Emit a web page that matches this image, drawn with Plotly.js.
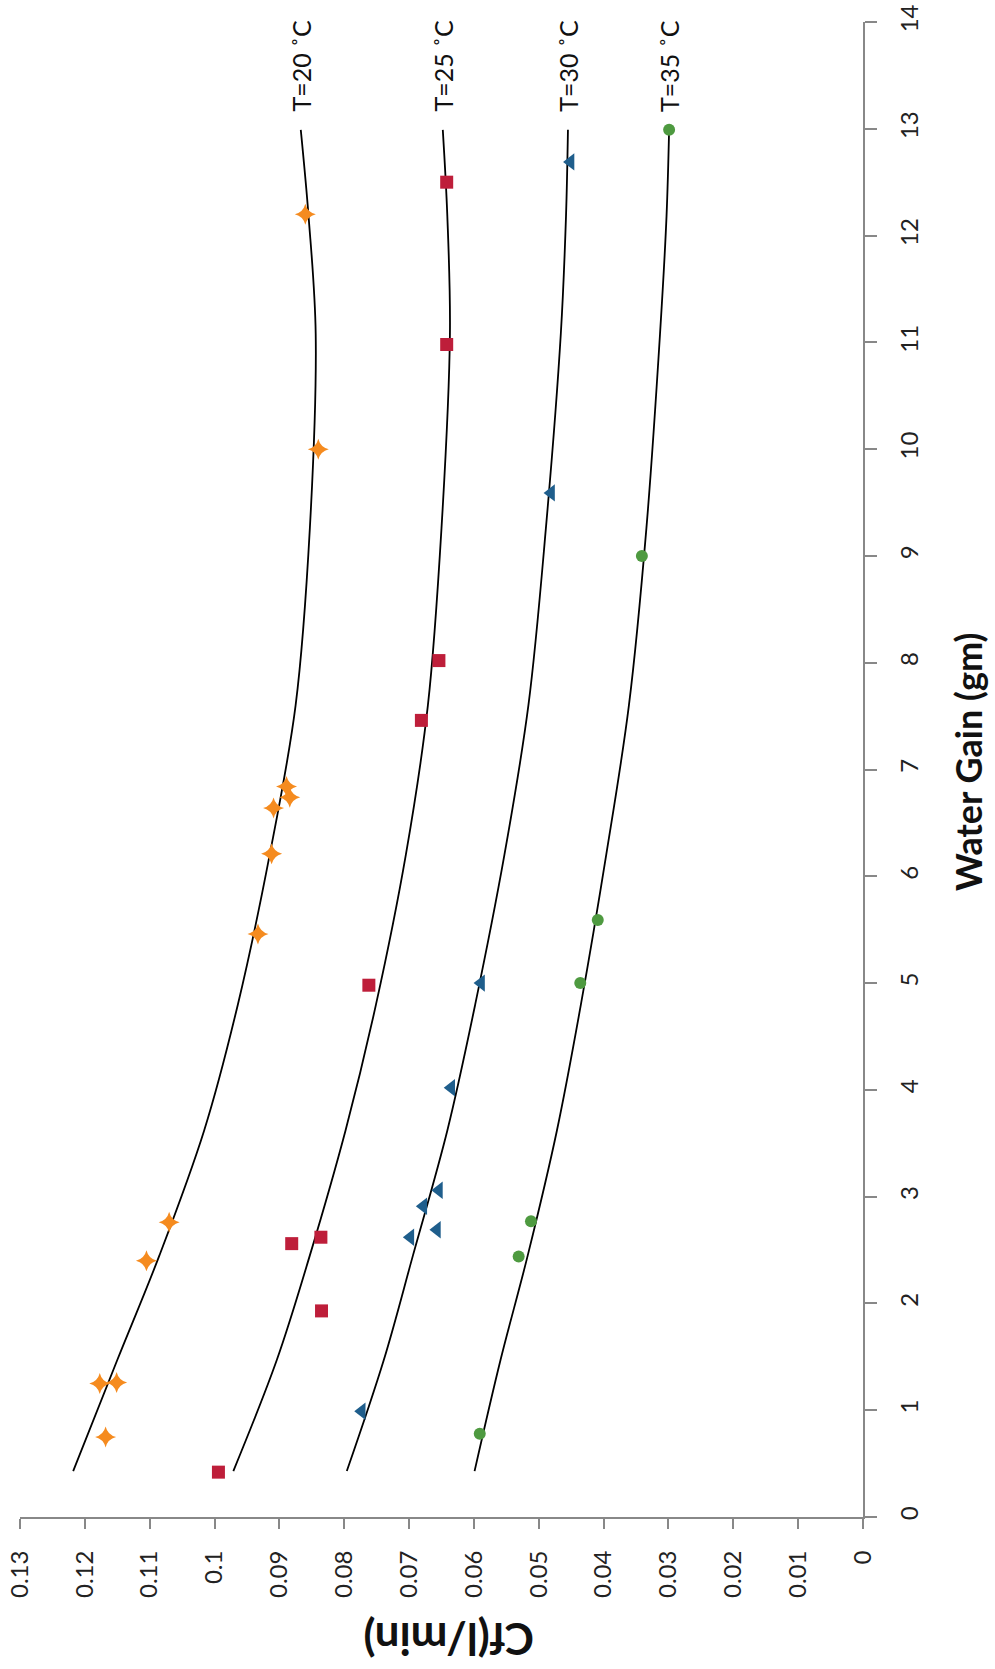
<!DOCTYPE html>
<html>
<head>
<meta charset="utf-8">
<script src="https://cdn.plot.ly/plotly-3.0.1.min.js"></script>
<style>
  html, body { margin: 0; padding: 0; background: #fff; }
  #chart { width: 995px; height: 1669px; }
</style>
</head>
<body>
<div id="chart"></div>
<script>
// ---- Measured points (Water Gain in gm, Cf in l/min) ----
const t20_wg = [0.75, 1.25, 1.26, 2.40, 2.76, 5.46, 6.21, 6.64, 6.74, 6.84, 10.00, 12.20];
const t20_cf = [0.1168, 0.1177, 0.1151, 0.1105, 0.1070, 0.0933, 0.0912, 0.0909, 0.0884, 0.0889, 0.0840, 0.0860];

const t25_wg = [0.42, 1.93, 2.56, 2.62, 4.98, 7.46, 8.02, 10.98, 12.50];
const t25_cf = [0.0994, 0.0835, 0.0881, 0.0836, 0.0762, 0.0681, 0.0654, 0.0642, 0.0642];

const t30_wg = [0.99, 2.62, 2.69, 2.91, 3.06, 4.02, 5.00, 9.59, 12.69];
const t30_cf = [0.0773, 0.0698, 0.0657, 0.0678, 0.0654, 0.0635, 0.0589, 0.0481, 0.0451];

const t35_wg = [0.78, 2.44, 2.77, 5.00, 5.59, 9.00, 12.99];
const t35_cf = [0.0591, 0.0531, 0.0512, 0.0436, 0.0409, 0.0341, 0.0299];

// ---- Trend curves ----
const fit_wg = [0.43, 1.47, 2.45, 3.62, 4.80, 6.20, 7.60, 9.26, 11.08, 12.18, 12.99];
const fit20_cf = [0.1218, 0.1150, 0.1085, 0.1016, 0.0964, 0.0915, 0.0875, 0.0853, 0.0844, 0.0855, 0.0867];
const fit25_cf = [0.0971, 0.0904, 0.0853, 0.0798, 0.0751, 0.0705, 0.0671, 0.0650, 0.0637, 0.0641, 0.0648];
const fit30_cf = [0.0796, 0.0739, 0.0694, 0.0641, 0.0598, 0.0553, 0.0516, 0.0489, 0.0466, 0.0458, 0.0455];
const fit35_cf = [0.0599, 0.0559, 0.0517, 0.0472, 0.0435, 0.0396, 0.0361, 0.0334, 0.0313, 0.0303, 0.0299];

const curveLabels = ["T=20 \u02DAC", "T=25 \u02DAC", "T=30 \u02DAC", "T=35 \u02DAC"];

// ---- Axis ticks ----
const cfTicks = [0, 0.01, 0.02, 0.03, 0.04, 0.05, 0.06, 0.07, 0.08, 0.09, 0.1, 0.11, 0.12, 0.13];
const cfTickText = ["0", "0.01", "0.02", "0.03", "0.04", "0.05", "0.06", "0.07", "0.08", "0.09", "0.1", "0.11", "0.12", "0.13"];
const wgTicks = [0, 1, 2, 3, 4, 5, 6, 7, 8, 9, 10, 11, 12, 13, 14];
const wgTickText = ["0", "1", "2", "3", "4", "5", "6", "7", "8", "9", "10", "11", "12", "13", "14"];

const xTitle = "Water Gain (gm)";
const yTitle = "Cf(l/min)";

const FONT = "Lato, 'Open Sans', sans-serif";

function curve(cf) {
  return {
    x: cf, y: fit_wg, type: "scatter", mode: "lines",
    line: { color: "#000", width: 1.8, shape: "spline", smoothing: 1 },
    hoverinfo: "skip", showlegend: false
  };
}
function pts(wg, cf, symbol, color, size) {
  return {
    x: cf, y: wg, type: "scatter", mode: "markers",
    marker: { symbol: symbol, color: color, size: size, line: { width: 0 } },
    showlegend: false
  };
}

const traces = [
  curve(fit20_cf), curve(fit25_cf), curve(fit30_cf), curve(fit35_cf),
  pts(t20_wg, t20_cf, "star-diamond", "#F58B1F", 15),
  pts(t25_wg, t25_cf, "square", "#BE1E3A", 13),
  pts(t30_wg, t30_cf, "triangle-left", "#1F5E8C", 15),
  pts(t35_wg, t35_cf, "circle", "#4E9A40", 12)
];

const fits = [fit20_cf, fit25_cf, fit30_cf, fit35_cf];
const lastWg = fit_wg[fit_wg.length - 1];
const annotations = fits.map((f, i) => ({
  xref: "x", yref: "y",
  x: f[f.length - 1], y: lastWg + 0.6,
  text: curveLabels[i], textangle: -90, showarrow: false,
  xanchor: "center", yanchor: "middle",
  font: { family: FONT, size: 25, color: "#111" }
}));
annotations.push({
  xref: "paper", yref: "paper", x: 1.1246, y: 0.505,
  text: "<b>" + xTitle + "</b>", textangle: -90, showarrow: false,
  xanchor: "center", yanchor: "middle",
  font: { family: FONT, size: 36, color: "#111" }
});
annotations.push({
  xref: "paper", yref: "paper", x: 0.5077, y: -0.0823,
  text: "<b>" + yTitle + "</b>", textangle: 180, showarrow: false,
  xanchor: "center", yanchor: "middle",
  font: { family: FONT, size: 44, color: "#111" }
});

const layout = {
  width: 995, height: 1669,
  margin: { l: 20, r: 132, t: 22, b: 152 },
  paper_bgcolor: "#fff", plot_bgcolor: "#fff",
  font: { family: FONT, color: "#222" },
  xaxis: {
    range: [0.13, 0], tickvals: cfTicks, ticktext: cfTickText,
    tickangle: -90, ticks: "outside", ticklen: 10, tickwidth: 2, tickcolor: "#888",
    showline: true, linecolor: "#888", linewidth: 2, showgrid: false, zeroline: false,
    tickfont: { family: FONT, size: 24, color: "#222" }, ticklabelstandoff: 12
  },
  yaxis: {
    range: [0, 14], tickvals: wgTicks, ticktext: wgTickText, side: "right",
    tickangle: -90, ticks: "outside", ticklen: 12, tickwidth: 2, tickcolor: "#888",
    showline: true, linecolor: "#888", linewidth: 2, showgrid: false, zeroline: false,
    tickfont: { family: FONT, size: 24, color: "#222" }, ticklabelstandoff: 12
  },
  annotations: annotations,
  showlegend: false
};

Plotly.newPlot("chart", traces, layout, { displayModeBar: false, staticPlot: true });
</script>
</body>
</html>
